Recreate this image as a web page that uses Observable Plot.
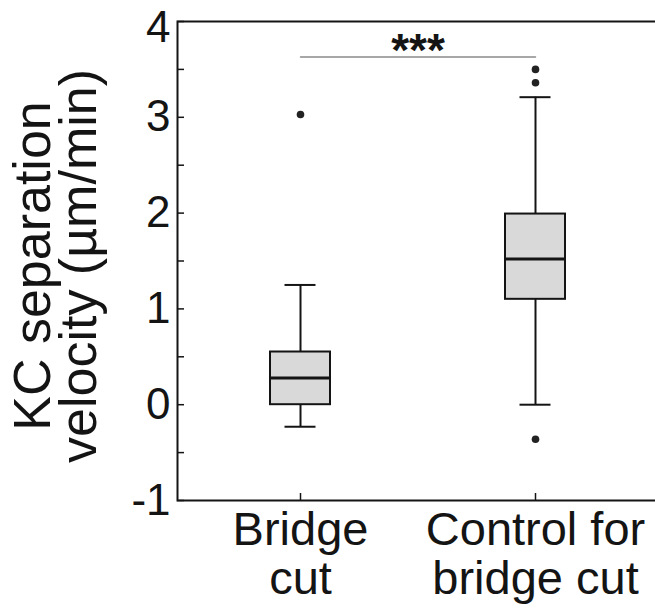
<!DOCTYPE html>
<html>
<head>
<meta charset="utf-8">
<script src="https://cdn.jsdelivr.net/npm/d3@7"></script>
<script src="https://cdn.jsdelivr.net/npm/@observablehq/plot@0.6"></script>
<style>
  html, body { margin: 0; padding: 0; background: #ffffff; }
  #chart svg { display: block; }
</style>
</head>
<body>
<div id="chart"></div>
<script>
// ---- data ----
const categories = ["Bridge cut", "Control for bridge cut"];
const categoryLabels = ["Bridge\ncut", "Control for\nbridge cut"];
const whiskerLow = [-0.23, 0.0];
const quartile1 = [0.0, 1.10];
const medians = [0.28, 1.52];
const quartile3 = [0.55, 1.99];
const whiskerHigh = [1.25, 3.21];
const outlierCategory = ["Bridge cut", "Control for bridge cut", "Control for bridge cut", "Control for bridge cut"];
const outlierValue = [3.03, 3.50, 3.36, -0.36];
const yTickLabels = [-1, 0, 1, 2, 3];
const yTopLabel = [4];
const yTickMarks = [-1, -0.5, 0, 0.5, 1, 1.5, 2, 2.5, 3, 3.5, 4];
const yDomain = [-1, 4];
const yLabel = "KC separation\nvelocity (µm/min)";
const sigFrom = ["Bridge cut"];
const sigTo = ["Control for bridge cut"];
const sigLevel = [3.63];
const sigText = ["***"];

// ---- tables built from the arrays ----
const boxes = categories.map((c, i) => ({
  c, lo: whiskerLow[i], q1: quartile1[i], med: medians[i], q3: quartile3[i], hi: whiskerHigh[i]
}));
const outliers = outlierCategory.map((c, i) => ({c, v: outlierValue[i]}));
const sigLine = sigFrom.flatMap((f, i) => [{c: f, y: sigLevel[i]}, {c: sigTo[i], y: sigLevel[i]}]);
const sigLabels = sigFrom.map((f, i) => ({c: f, y: sigLevel[i], t: sigText[i]}));

const font = "'Liberation Sans', Arial, Helvetica, sans-serif";
const ink = "#141414";

const chart = Plot.plot({
  width: 655,
  height: 616,
  marginLeft: 177,
  marginTop: 21,
  marginBottom: 116,
  marginRight: -4,
  style: {fontFamily: font, background: "#ffffff", color: ink, overflow: "hidden"},
  x: {type: "band", domain: categories, range: [270, 565], paddingInner: 0.745, paddingOuter: 0, axis: null},
  y: {domain: yDomain, axis: null},
  marks: [
    Plot.frame({stroke: ink, strokeWidth: 2}),
    // inward tick marks
    Plot.axisY(yTickMarks, {tickSize: -7, tickFormat: () => "", strokeWidth: 1.5, stroke: ink, label: null}),
    Plot.axisX({tickSize: -7, tickFormat: () => "", strokeWidth: 1.5, stroke: ink, label: null}),
    // tick labels
    Plot.axisY(yTickLabels, {tickSize: 0, tickPadding: 7, fontSize: 44, fill: ink, tickFormat: d => String(d), label: null}),
    Plot.axisY(yTopLabel, {tickSize: 0, tickPadding: 7, dy: 6, fontSize: 44, fill: ink, tickFormat: d => String(d), label: null}),
    Plot.axisX({tickSize: 0, tickPadding: 9, fontSize: 47, lineHeight: 1.05, fill: ink,
      tickFormat: d => categoryLabels[categories.indexOf(d)], label: null}),
    // y title
    Plot.text([yLabel], {frameAnchor: "left", textAnchor: "middle", rotate: -90, dx: -119, dy: 5, fontSize: 52, lineHeight: 0.87, fill: ink, text: d => d}),
    // whiskers
    Plot.ruleX(boxes, {x: "c", y1: "lo", y2: "q1", stroke: ink, strokeWidth: 2}),
    Plot.ruleX(boxes, {x: "c", y1: "q3", y2: "hi", stroke: ink, strokeWidth: 2}),
    Plot.tickY(boxes, {x: "c", y: "lo", insetLeft: 14.5, insetRight: 14.5, stroke: ink, strokeWidth: 2}),
    Plot.tickY(boxes, {x: "c", y: "hi", insetLeft: 14.5, insetRight: 14.5, stroke: ink, strokeWidth: 2}),
    // boxes
    Plot.barY(boxes, {x: "c", y1: "q1", y2: "q3", fill: "#d9d9d9", stroke: ink, strokeWidth: 2}),
    Plot.tickY(boxes, {x: "c", y: "med", stroke: ink, strokeWidth: 3}),
    // outliers
    Plot.dot(outliers, {x: "c", y: "v", r: 3.8, fill: "#222", stroke: "none"}),
    // significance
    Plot.line(sigLine, {x: "c", y: "y", stroke: "#8a8a8a", strokeWidth: 1.5}),
    Plot.text(sigLabels, {x: "c", y: "y", text: "t", dx: 117.5, dy: 9, lineAnchor: "bottom", fontSize: 46, fontWeight: "bold", fill: ink})
  ]
});
document.getElementById("chart").appendChild(chart);
</script>
</body>
</html>
